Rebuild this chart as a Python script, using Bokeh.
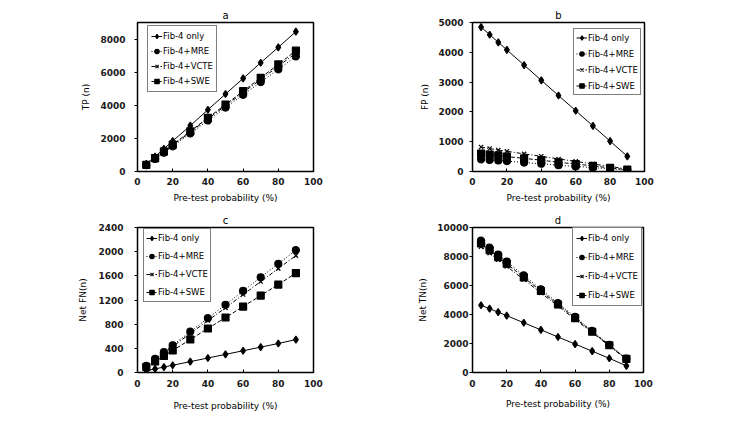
from bokeh.plotting import figure
from bokeh.layouts import row, column
from bokeh.models import Range1d, FixedTicker, Legend, LegendItem
from bokeh.embed import file_html
from bokeh.resources import INLINE

# Pre-test probability (%) on the x axis of every panel
pretest = [5, 10, 15, 20, 30, 40, 50, 60, 70, 80, 90]
series_names = ["Fib-4 only", "Fib-4+MRE", "Fib-4+VCTE", "Fib-4+SWE"]

# a: true positives
tp_fib4 = [460, 900, 1370, 1840, 2770, 3730, 4680, 5620, 6570, 7500, 8450]
tp_mre = [385, 760, 1140, 1520, 2300, 3080, 3860, 4630, 5400, 6170, 6950]
tp_vcte = [400, 795, 1190, 1590, 2380, 3180, 3970, 4770, 5560, 6360, 7150]
tp_swe = [405, 810, 1215, 1620, 2430, 3240, 4040, 4850, 5660, 6470, 7300]

# b: false positives
fp_fib4 = [4845, 4590, 4335, 4080, 3570, 3060, 2550, 2040, 1530, 1020, 510]
fp_mre = [410, 390, 370, 350, 300, 260, 210, 170, 130, 90, 45]
fp_vcte = [820, 770, 720, 680, 590, 510, 420, 340, 250, 170, 85]
fp_swe = [600, 570, 540, 500, 440, 380, 310, 250, 190, 120, 65]

# c: net false negatives
fn_fib4 = [30, 60, 90, 120, 180, 240, 300, 360, 420, 480, 545]
fn_mre = [112, 225, 337, 450, 675, 900, 1120, 1350, 1575, 1800, 2025]
fn_vcte = [107, 215, 322, 430, 645, 860, 1070, 1290, 1505, 1720, 1935]
fn_swe = [91, 182, 273, 364, 546, 728, 910, 1092, 1274, 1456, 1645]

# d: net true negatives
tn_fib4 = [4640, 4400, 4160, 3920, 3430, 2940, 2450, 1960, 1470, 980, 460]
tn_mre = [9090, 8610, 8130, 7650, 6700, 5740, 4790, 3830, 2870, 1910, 955]
tn_vcte = [8680, 8230, 7780, 7320, 6410, 5490, 4580, 3660, 2750, 1830, 915]
tn_swe = [8900, 8430, 7960, 7500, 6560, 5620, 4690, 3750, 2810, 1880, 935]

x_ticks = [0, 20, 40, 60, 80, 100]

STYLES = [
    dict(marker="diamond", size=7, dash="solid"),
    dict(marker="circle", size=7, dash="1 2"),
    dict(marker="x", size=6, dash="4 2 1 2"),
    dict(marker="square", size=7, dash="4 2"),
]

FONT = "DejaVu Sans"


def make_panel(title, ylabel, series, y_max, y_step, geom, axis_cfg, leg_cfg):
    width, height, left, right, top, bottom = geom
    p = figure(
        width=width, height=height,
        min_border_left=left, min_border_right=right,
        min_border_top=top, min_border_bottom=bottom,
        x_range=Range1d(0, 100), y_range=Range1d(0, y_max),
        output_backend="svg", toolbar_location=None,
        background_fill_color="white", border_fill_color="white",
    )
    p.title.text = title
    p.title.align = "center"
    p.title.text_font = FONT
    p.title.text_font_size = "10px"
    p.title.text_font_style = "normal"
    p.title.text_color = "black"
    p.title.standoff = 3
    p.outline_line_color = "black"
    p.outline_line_width = 1.5
    p.xgrid.visible = False
    p.ygrid.visible = False

    xa = p.xaxis[0]
    ya = p.yaxis[0]
    xa.ticker = FixedTicker(ticks=x_ticks)
    ya.ticker = FixedTicker(ticks=list(range(0, y_max + 1, y_step)))
    for ax in (xa, ya):
        ax.axis_line_color = None
        ax.minor_tick_line_color = None
        ax.major_tick_line_color = "black"
        ax.major_label_text_font = FONT
        ax.major_label_text_font_style = "bold"
        ax.major_label_text_font_size = "9px"
        ax.major_label_text_color = "#1a1a1a"
        ax.axis_label_text_font = FONT
        ax.axis_label_text_font_style = "normal"
        ax.axis_label_text_font_size = "9px"
        ax.axis_label_text_color = "black"
    xa.axis_label = "Pre-test probability (%)"
    ya.axis_label = ylabel
    xa.major_tick_in = 3
    xa.major_tick_out = 0
    ya.major_tick_in = 0
    ya.major_tick_out = 3
    xa.major_label_standoff = axis_cfg["x_std"]
    xa.axis_label_standoff = axis_cfg["x_lbl"]
    ya.major_label_standoff = axis_cfg["y_std"]
    ya.axis_label_standoff = axis_cfg["y_lbl"]

    items = []
    for name, values, st in zip(series_names, series, STYLES):
        ln = p.line(pretest, values, line_color="black", line_width=1,
                    line_dash=st["dash"])
        sc = p.scatter(pretest, values, marker=st["marker"], size=st["size"],
                       fill_color="black", line_color="black", line_width=1.2)
        items.append(LegendItem(label=name, renderers=[ln, sc]))

    legend = Legend(
        items=items, location=leg_cfg["loc"], margin=0,
        border_line_color="black", border_line_width=1,
        background_fill_color="white", background_fill_alpha=1,
        label_text_font=FONT, label_text_font_size="8.5px",
        label_text_color="black",
        glyph_width=11, glyph_height=leg_cfg["h"], label_height=leg_cfg["h"],
        label_standoff=1, spacing=leg_cfg["sp"], padding=leg_cfg["pad"],
    )
    p.add_layout(legend)
    return p


pa = make_panel("a", "TP (n)", [tp_fib4, tp_mre, tp_vcte, tp_swe], 9000, 2000,
                (375, 211, 137, 62, 22, 40),
                dict(x_std=6, x_lbl=5, y_std=9, y_lbl=6),
                dict(loc=(10, 79), h=14, sp=1, pad=3))
pb = make_panel("b", "FP (n)", [fp_fib4, fp_mre, fp_vcte, fp_swe], 5000, 1000,
                (375, 211, 97, 106, 22, 39),
                dict(x_std=6, x_lbl=5, y_std=6, y_lbl=5),
                dict(loc=(101, 76), h=13, sp=3, pad=2))
pc = make_panel("c", "Net FN(n)", [fn_fib4, fn_mre, fn_vcte, fn_swe], 2400, 400,
                (375, 211, 137, 62, 15, 48),
                dict(x_std=7, x_lbl=11, y_std=11, y_lbl=7),
                dict(loc=(6, 70), h=14, sp=4, pad=2))
pd_ = make_panel("d", "Net TN(n)", [tn_fib4, tn_mre, tn_vcte, tn_swe], 10000, 2000,
                 (375, 211, 97, 107, 15, 50),
                 dict(x_std=7, x_lbl=9, y_std=1, y_lbl=6),
                 dict(loc=(100, 66), h=14, sp=5, pad=3))

layout = column(row(pa, pb, spacing=0), row(pc, pd_, spacing=0), spacing=0)

open("out.html", "w").write(file_html(layout, INLINE))
